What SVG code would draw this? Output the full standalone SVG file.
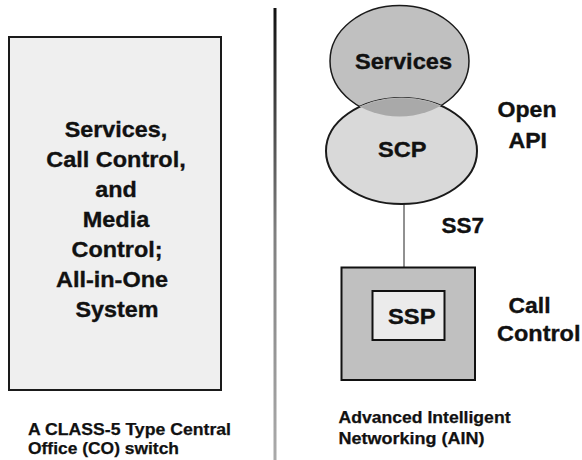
<svg xmlns="http://www.w3.org/2000/svg" width="582" height="460" viewBox="0 0 582 460">
  <style>
    text { font-family: "Liberation Sans", Arial, Helvetica, sans-serif; font-weight: bold; fill: #111; stroke: #111; stroke-width: 0.35px; }
    .big { font-size: 22px; }
    .small { font-size: 16.5px; stroke-width: 0.25px; }
    .mid { text-anchor: middle; }
    .outline { stroke: #1a1a1a; }
  </style>
  <defs>
    <linearGradient id="dividerShade" x1="0" y1="0" x2="0" y2="1">
      <stop offset="0" stop-color="#111"/>
      <stop offset="0.5" stop-color="#808080"/>
      <stop offset="1" stop-color="#aaa"/>
    </linearGradient>
    <clipPath id="servicesClip">
      <ellipse cx="399.5" cy="61" rx="69.5" ry="55.5"/>
    </clipPath>
  </defs>

  <!-- page background -->
  <rect x="0" y="0" width="582" height="460" fill="#fff"/>

  <!-- left panel: monolithic switch -->
  <g id="co-switch">
    <rect x="9" y="37" width="212" height="353" fill="#efefef" class="outline" stroke-width="2"/>
    <text class="big mid" x="116" y="137" textLength="102.5" lengthAdjust="spacingAndGlyphs">Services,</text>
    <text class="big mid" x="116" y="167" textLength="139.5" lengthAdjust="spacingAndGlyphs">Call Control,</text>
    <text class="big mid" x="116" y="197" textLength="41.5" lengthAdjust="spacingAndGlyphs">and</text>
    <text class="big mid" x="116" y="227" textLength="66.5" lengthAdjust="spacingAndGlyphs">Media</text>
    <text class="big mid" x="117" y="257" textLength="91" lengthAdjust="spacingAndGlyphs">Control;</text>
    <text class="big mid" x="112" y="287" textLength="112" lengthAdjust="spacingAndGlyphs">All-in-One</text>
    <text class="big mid" x="117" y="317" textLength="83" lengthAdjust="spacingAndGlyphs">System</text>
  </g>
  <g id="co-caption">
    <text class="small" x="28" y="435" textLength="203" lengthAdjust="spacingAndGlyphs">A CLASS-5 Type Central</text>
    <text class="small" x="28" y="453.5" textLength="151" lengthAdjust="spacingAndGlyphs">Office (CO) switch</text>
  </g>

  <!-- vertical separator -->
  <rect id="divider" x="273.5" y="8" width="3" height="452" fill="url(#dividerShade)"/>

  <!-- connectors -->
  <g id="connectors">
    <line x1="404" y1="204" x2="404" y2="267" stroke="#222" stroke-width="1"/>
  </g>

  <!-- right panel: AIN -->
  <g id="services">
    <ellipse cx="399.5" cy="61" rx="69.5" ry="55.5" fill="#c0c0c0" class="outline" stroke-width="1.5"/>
    <text class="big" x="355" y="68.5" textLength="97" lengthAdjust="spacingAndGlyphs">Services</text>
  </g>
  <g id="scp">
    <ellipse cx="401.5" cy="151" rx="75.5" ry="53" fill="#d9d9d9" class="outline" stroke-width="2"/>
    <!-- shared region where the service layer sits on the SCP -->
    <ellipse cx="401.5" cy="151" rx="75.5" ry="53" fill="#a9a9a9" stroke="#b8b8b8" stroke-width="1" clip-path="url(#servicesClip)"/>
    <text class="big" x="378" y="157" textLength="48.5" lengthAdjust="spacingAndGlyphs">SCP</text>
  </g>
  <g id="ssp">
    <rect x="341.5" y="267.5" width="133.5" height="112.5" fill="#c0c0c0" stroke="#111" stroke-width="2"/>
    <rect x="372.5" y="291" width="72" height="49" fill="#ebebeb" stroke="#111" stroke-width="2"/>
    <text class="big" x="388" y="324" textLength="47.5" lengthAdjust="spacingAndGlyphs">SSP</text>
  </g>

  <g id="labels">
    <text class="big" x="497.5" y="117" textLength="59" lengthAdjust="spacingAndGlyphs">Open</text>
    <text class="big" x="508.5" y="147.5" textLength="38.5" lengthAdjust="spacingAndGlyphs">API</text>
    <text class="big" x="441.5" y="232.5" textLength="42.5" lengthAdjust="spacingAndGlyphs">SS7</text>
    <text class="big" x="508.5" y="312.5" textLength="42" lengthAdjust="spacingAndGlyphs">Call</text>
    <text class="big" x="497" y="340.5" textLength="83.5" lengthAdjust="spacingAndGlyphs">Control</text>
  </g>

  <g id="ain-caption">
    <text class="small" x="338.5" y="423" textLength="172" lengthAdjust="spacingAndGlyphs">Advanced Intelligent</text>
    <text class="small" x="338.5" y="443.5" textLength="146" lengthAdjust="spacingAndGlyphs">Networking (AIN)</text>
  </g>
</svg>
